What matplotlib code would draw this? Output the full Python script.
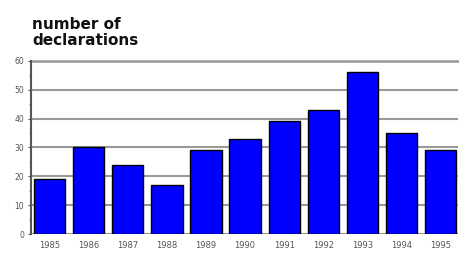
import matplotlib
matplotlib.use("Agg")
import matplotlib.pyplot as plt
from matplotlib.ticker import MultipleLocator

years = ["1985", "1986", "1987", "1988", "1989", "1990", "1991", "1992", "1993", "1994", "1995"]
declarations = [19, 30, 24, 17, 29, 33, 39, 43, 56, 35, 29]
yticks = [0, 10, 20, 30, 40, 50, 60]

fig = plt.figure(figsize=(4.6, 2.58), dpi=100)
ax = fig.add_axes([0.067, 0.093, 0.929, 0.671])
x = list(range(len(years)))
ax.bar(x, declarations, width=0.8, color="#0000ff", edgecolor="black", linewidth=1.0, zorder=3)
ax.set_xlim(-0.48, len(years) - 0.55)
ax.set_ylim(0, 60)
ax.set_yticks(yticks)
ax.set_yticklabels([str(v) for v in yticks])
ax.yaxis.set_minor_locator(MultipleLocator(5))
ax.set_xticks(x)
ax.set_xticklabels(years)
ax.grid(axis="y", color="#999999", linewidth=1.5, zorder=0)
ax.axhline(60, color="#999999", linewidth=1.8, clip_on=False, zorder=1)
for s in ["top", "right", "bottom"]:
    ax.spines[s].set_visible(False)
ax.spines["left"].set_color("#555555")
ax.spines["left"].set_linewidth(1.5)
ax.tick_params(axis="y", labelsize=5.5, colors="#555555", length=2, pad=3)
ax.tick_params(axis="y", which="minor", length=1.5, colors="#777777")
ax.tick_params(axis="x", labelsize=6, colors="#555555", length=0, pad=5)
fig.text(0.07, 0.815, "number of\ndeclarations", fontsize=11, fontweight="bold",
         ha="left", va="bottom", linespacing=1.05, color="#111111")
fig.savefig("out.png", dpi=100)
